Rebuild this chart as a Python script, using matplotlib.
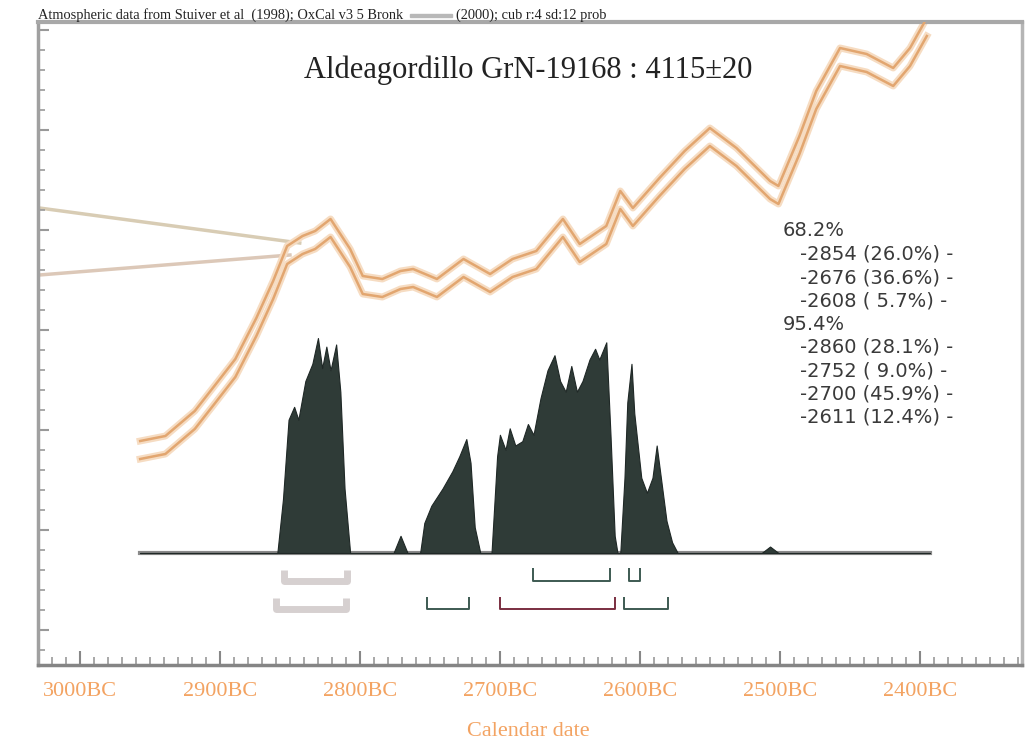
import matplotlib
matplotlib.use('Agg')
import matplotlib.pyplot as plt
from matplotlib.patches import Rectangle
from matplotlib.ticker import MultipleLocator

# calibration curve (years BC as negative, radiocarbon BP)
curve_years = [-2957, -2939, -2918, -2904, -2889, -2874, -2862, -2852, -2841, -2832,
               -2821, -2807, -2798, -2784, -2771, -2762, -2745, -2726, -2707, -2691,
               -2674, -2655, -2643, -2624, -2614, -2605, -2586, -2568, -2550, -2531,
               -2507, -2501, -2486, -2474, -2457, -2438, -2419, -2407, -2395]
curve_bp = [4320, 4315, 4290, 4265, 4238, 4197, 4160, 4125, 4115, 4110,
            4098, 4128, 4155, 4158, 4150, 4148, 4158, 4138, 4153, 4138,
            4130, 4098, 4123, 4105, 4070, 4087, 4057, 4030, 4007, 4027,
            4060, 4065, 4015, 3970, 3927, 3933, 3947, 3927, 3897]
curve_err = 9

# radiocarbon determination lines on the left
c14_upper_years = [-3029, -2843]
c14_upper_bp = [4078, 4113]
c14_lower_years = [-3029, -2850]
c14_lower_bp = [4145, 4125]

# calibrated probability distribution
prob_years = [-2957, -2859, -2855, -2851, -2847, -2844, -2839, -2834, -2830, -2827,
              -2824, -2821, -2817, -2814, -2811, -2807,
              -2776, -2771, -2766,
              -2757, -2754, -2749, -2741, -2734, -2729, -2724, -2721, -2718, -2714,
              -2706, -2702, -2700, -2696, -2693, -2689, -2684, -2680, -2676, -2671,
              -2666, -2661, -2657, -2653, -2649, -2645, -2641, -2636, -2632, -2629,
              -2624, -2621, -2618, -2616,
              -2614, -2611, -2609, -2606, -2604, -2599, -2595, -2591, -2588, -2585,
              -2581, -2577, -2573,
              -2513, -2507, -2501, -2393]
prob_density = [0, 0, 0.25, 0.62, 0.68, 0.62, 0.80, 0.88, 1.0, 0.86,
                0.96, 0.85, 0.97, 0.75, 0.30, 0,
                0, 0.08, 0,
                0, 0.14, 0.22, 0.30, 0.38, 0.45, 0.53, 0.42, 0.12, 0,
                0, 0.45, 0.55, 0.48, 0.58, 0.50, 0.52, 0.60, 0.55, 0.72,
                0.85, 0.92, 0.80, 0.75, 0.87, 0.75, 0.80, 0.90, 0.95, 0.90,
                0.98, 0.55, 0.08, 0,
                0, 0.35, 0.70, 0.88, 0.65, 0.35, 0.28, 0.35, 0.50, 0.35,
                0.15, 0.05, 0,
                0, 0.03, 0, 0]
baseline_years = [-2957, -2393]

# highest probability ranges
starts_68 = [-2854, -2676, -2608]
ends_68 = [-2809, -2621, -2600]
pct_68 = [26.0, 36.6, 5.7]
starts_95 = [-2860, -2752, -2700, -2611]
ends_95 = [-2810, -2722, -2618, -2580]
pct_95 = [28.1, 9.0, 45.9, 12.4]

tick_years = [-3000, -2900, -2800, -2700, -2600, -2500, -2400]
tick_labels = ['3000BC', '2900BC', '2800BC', '2700BC', '2600BC', '2500BC', '2400BC']

W, H = 1027, 740
fig = plt.figure(figsize=(W / 100, H / 100), dpi=100)
ax = fig.add_axes([38 / W, 1 - 665 / H, (1022 - 38) / W, (665 - 22) / H])
ax.set_xlim(-3030, -2327)
ax.set_ylim(4535, 3892)

serif = 'Liberation Serif'
orange = '#f3a362'

# calibration curve: two bounding lines
upper = [b - curve_err for b in curve_bp]
lower = [b + curve_err for b in curve_bp]
for band in (upper, lower):
    ax.plot(curve_years, band, color='#f6dcc2', lw=5, solid_joinstyle='round', zorder=2)
    ax.plot(curve_years, band, color='#e2a670', lw=1.8, solid_joinstyle='round', zorder=3)

ax.plot(c14_upper_years, c14_upper_bp, color='#d8ccb4', lw=2.5, zorder=1)
ax.plot(c14_lower_years, c14_lower_bp, color='#dcc8b8', lw=2.5, zorder=1)

# axis styling
ax.set_xticks(tick_years)
ax.set_xticklabels(tick_labels, fontsize=16, family=serif, color=orange)
ax.xaxis.set_minor_locator(MultipleLocator(10))
ax.tick_params(axis='x', which='major', direction='in', length=10, width=1.5,
               color='#888888', pad=12)
ax.tick_params(axis='x', which='minor', direction='in', length=6, width=1.2, color='#999999')
ax.yaxis.set_major_locator(MultipleLocator(100))
ax.yaxis.set_minor_locator(MultipleLocator(20))
ax.tick_params(axis='y', which='both', direction='in', labelleft=False, color='#999999')
ax.tick_params(axis='y', which='major', length=8, width=1.5)
ax.tick_params(axis='y', which='minor', length=5, width=1.2)
ax.spines['top'].set_color('#a8a8a8')
ax.spines['top'].set_linewidth(3)
ax.spines['left'].set_color('#a0a0a0')
ax.spines['left'].set_linewidth(2.5)
ax.spines['bottom'].set_color('#858585')
ax.spines['bottom'].set_linewidth(2.5)
ax.spines['right'].set_color('#b5b5b5')
ax.spines['right'].set_linewidth(2.5)

# probability axis
ax2 = ax.twinx()
ax2.set_ylim(-0.521, 2.470)
ax2.axis('off')
ax2.fill_between(prob_years, prob_density, 0, color='#2f3b37', lw=0.8,
                 edgecolor='#1f2826', zorder=3)
ax2.plot(baseline_years, [0, 0], color='#8a8a8a', lw=3, zorder=2)

def bracket(s, e, top, bot, color, lw):
    ax2.plot([s, s, e, e], [top, bot, bot, top], color=color, lw=lw,
             solid_capstyle='butt', zorder=4)

for i, (s, e) in enumerate(zip(starts_68, ends_68)):
    if i == 0:
        bracket(s, e, -0.08, -0.13, '#d6d0d0', 5)
    else:
        bracket(s, e, -0.07, -0.13, '#3d5a52', 1.4)
for i, (s, e) in enumerate(zip(starts_95, ends_95)):
    if i == 0:
        bracket(s, e, -0.21, -0.26, '#d6d0d0', 5)
    elif i == 2:
        bracket(s, e, -0.205, -0.26, '#7a2e40', 1.4)
    else:
        bracket(s, e, -0.205, -0.26, '#3d5a52', 1.4)

# texts
fig.text(528 / W, 1 - 70 / H, 'Aldeagordillo GrN-19168 : 4115\u00b120', fontsize=22,
         family=serif, color='#222222', ha='center', va='center')
fig.text(528 / W, 1 - 731 / H, 'Calendar date', fontsize=16, family=serif,
         color=orange, ha='center', va='center')
fig.text(38 / W, 1 - 15 / H, 'Atmospheric data from Stuiver et al  (1998); OxCal v3 5 Bronk',
         fontsize=10.4, family=serif, color='#222222', ha='left', va='center')
fig.text(456 / W, 1 - 15 / H, '(2000); cub r:4 sd:12 prob',
         fontsize=10.4, family=serif, color='#222222', ha='left', va='center')
fig.patches.append(Rectangle((410 / W, 1 - 17 / H), 42 / W, 3 / H,
                             transform=fig.transFigure, color='#b8b8b8'))

lines = [('68.2%', 783)]
lines += [(f'-{-s} ({p:4.1f}%) -', 800) for s, p in zip(starts_68, pct_68)]
lines += [('95.4%', 783)]
lines += [(f'-{-s} ({p:4.1f}%) -', 800) for s, p in zip(starts_95, pct_95)]
for k, (txt, xp) in enumerate(lines):
    fig.text(xp / W, 1 - (231 + k * 23.3) / H, txt,
             fontsize=14, family='DejaVu Sans', color='#3a3a3a', ha='left', va='center')

fig.savefig('out.png', dpi=100)
